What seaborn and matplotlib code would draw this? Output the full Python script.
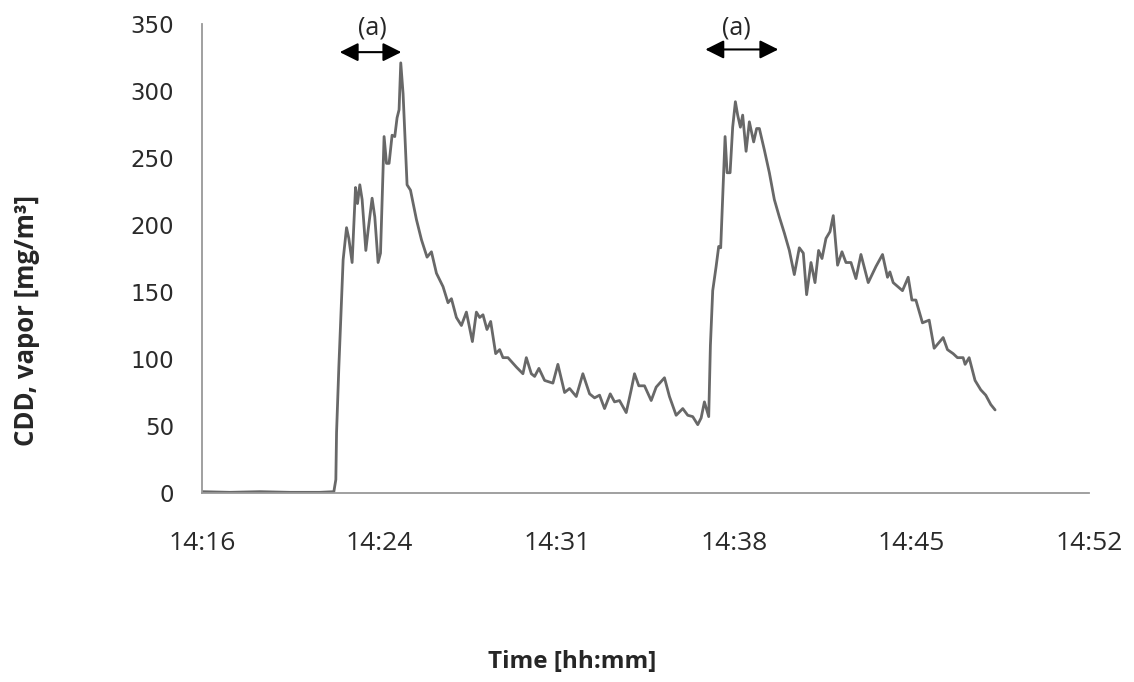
import matplotlib
matplotlib.use("Agg")
import matplotlib.pyplot as plt
import seaborn as sns
import pandas as pd

# minutes after 14:16
minutes = [0, 1.135, 2.351, 3.567, 4.783, 5.351, 5.432, 5.461, 5.554, 5.663, 5.728, 5.866, 5.959,
           6.093, 6.231, 6.312, 6.405, 6.499, 6.649, 6.742, 6.904, 7.013, 7.147, 7.245, 7.390,
           7.488, 7.593, 7.715, 7.824, 7.917, 7.998, 8.067, 8.161, 8.323, 8.461, 8.704, 8.907,
           9.134, 9.312, 9.515, 9.782, 9.985, 10.123, 10.325, 10.528, 10.731, 10.974, 11.136,
           11.270, 11.404, 11.566, 11.716, 11.919, 12.081, 12.215, 12.418, 12.758, 13.025,
           13.163, 13.366, 13.500, 13.674, 13.905, 14.242, 14.444, 14.716, 14.919, 15.190,
           15.458, 15.730, 15.932, 16.135, 16.338, 16.569, 16.743, 16.945, 17.217, 17.420,
           17.554, 17.728, 17.959, 18.231, 18.433, 18.770, 18.972, 19.244, 19.512, 19.715,
           19.917, 20.120, 20.258, 20.391, 20.566, 20.634, 20.728, 20.866, 20.971, 21.052,
           21.230, 21.311, 21.433, 21.538, 21.648, 21.741, 21.851, 21.944, 22.082, 22.215,
           22.390, 22.511, 22.621, 22.824, 23.027, 23.229, 23.432, 23.635, 23.838, 24.040,
           24.243, 24.405, 24.539, 24.717, 24.879, 25.025, 25.163, 25.325, 25.487, 25.621,
           25.796, 25.974, 26.136, 26.339, 26.541, 26.744, 27.040, 27.352, 27.620, 27.822,
           27.919, 28.053, 28.430, 28.662, 28.812, 28.974, 29.241, 29.513, 29.715, 30.081,
           30.255, 30.486, 30.661, 30.891, 30.972, 31.135, 31.375, 31.607, 31.810, 32.014,
           32.189]

cdd_vapor = [1, 0.5, 1, 0.5, 0.5, 1, 10, 45, 94, 144, 174, 198, 190,
             172, 228, 216, 230, 219, 181, 196, 220, 206, 172, 179, 266,
             246, 246, 267, 266, 280, 286, 321, 298, 230, 226, 204, 189,
             176, 180, 164, 154, 142, 145, 131, 125, 135, 113, 135,
             131, 133, 122, 128, 104, 107, 101, 101, 94, 89,
             101, 89, 87, 93, 84, 82, 96, 75, 78, 72,
             89, 74, 71, 73, 63, 74, 68, 69, 60, 77,
             89, 80, 80, 69, 79, 86, 72, 58, 63, 58,
             57, 51, 56, 68, 57, 110, 151, 169, 184, 183,
             266, 239, 239, 273, 292, 282, 273, 282, 255, 277,
             262, 272, 272, 256, 239, 219, 206, 194, 181, 163,
             183, 179, 148, 172, 157, 181, 175, 190, 195, 207,
             170, 180, 172, 172, 160, 178, 157, 169, 178, 161,
             165, 157, 151, 161, 144, 144, 127, 129, 108, 116,
             107, 104, 101, 101, 96, 101, 84, 77, 73, 66,
             62]

tick_minutes = [0, 7.2, 14.4, 21.6, 28.8, 36.0]
tick_labels = ["14:16", "14:24", "14:31", "14:38", "14:45", "14:52"]
y_ticks = [0, 50, 100, 150, 200, 250, 300, 350]

# annotation arrows (a): start, end (minutes), height (mg/m3)
arrow_starts = [5.59, 20.43]
arrow_ends = [8.09, 23.39]
arrow_levels = [329, 331]
label_x = [6.92, 21.68]
label_level = 347

df = pd.DataFrame({"t": minutes, "v": cdd_vapor})

sns.set_style("white")
plt.rcParams["font.family"] = ["DejaVu Sans"]

fig = plt.figure(figsize=(11.34, 6.82), dpi=100)
ax = fig.add_axes([202 / 1134, 1 - 493 / 682, (1089 - 202) / 1134, (493 - 24) / 682])

sns.lineplot(data=df, x="t", y="v", ax=ax, color="#686868", linewidth=2.0)

ax.set_xlim(0, 36)
ax.set_ylim(0, 350)
ax.set_xticks(tick_minutes)
ax.set_xticklabels(tick_labels, family=["Open Sans", "DejaVu Sans"], fontsize=19,
                   color="#2a2a2a")
ax.set_yticks(y_ticks)
ax.set_yticklabels([str(v) for v in y_ticks], fontsize=16.5, color="#2a2a2a")
ax.set_xlabel("")
ax.set_ylabel("")

for s in ["top", "right"]:
    ax.spines[s].set_visible(False)
for s in ["left", "bottom"]:
    ax.spines[s].set_color("#999999")
    ax.spines[s].set_linewidth(1.3)
ax.tick_params(axis="x", direction="out", length=5, width=1, color="#999999", pad=22)
ax.tick_params(axis="y", direction="out", length=7, width=1, color="#999999", pad=13)

for x0, x1, lv, lx in zip(arrow_starts, arrow_ends, arrow_levels, label_x):
    ax.annotate("", xy=(x1, lv), xytext=(x0, lv),
                arrowprops=dict(arrowstyle="<|-|>", color="black", lw=1.5,
                                mutation_scale=28, shrinkA=0, shrinkB=0),
                annotation_clip=False)
    ax.text(lx, label_level, "(a)", ha="center", va="center", fontsize=18,
            family=["Open Sans", "DejaVu Sans"], clip_on=False)

fig.text(27 / 1134, 1 - 320 / 682, "CDD, vapor [mg/m³]", rotation=90, ha="center", va="center",
         fontsize=18.5, fontweight="bold", family=["Open Sans", "DejaVu Sans"])
fig.text(572 / 1134, 1 - 662 / 682, "Time [hh:mm]", ha="center", va="center",
         fontsize=17.5, fontweight="bold", family=["Open Sans", "DejaVu Sans"])

fig.savefig("out.png", dpi=100)
